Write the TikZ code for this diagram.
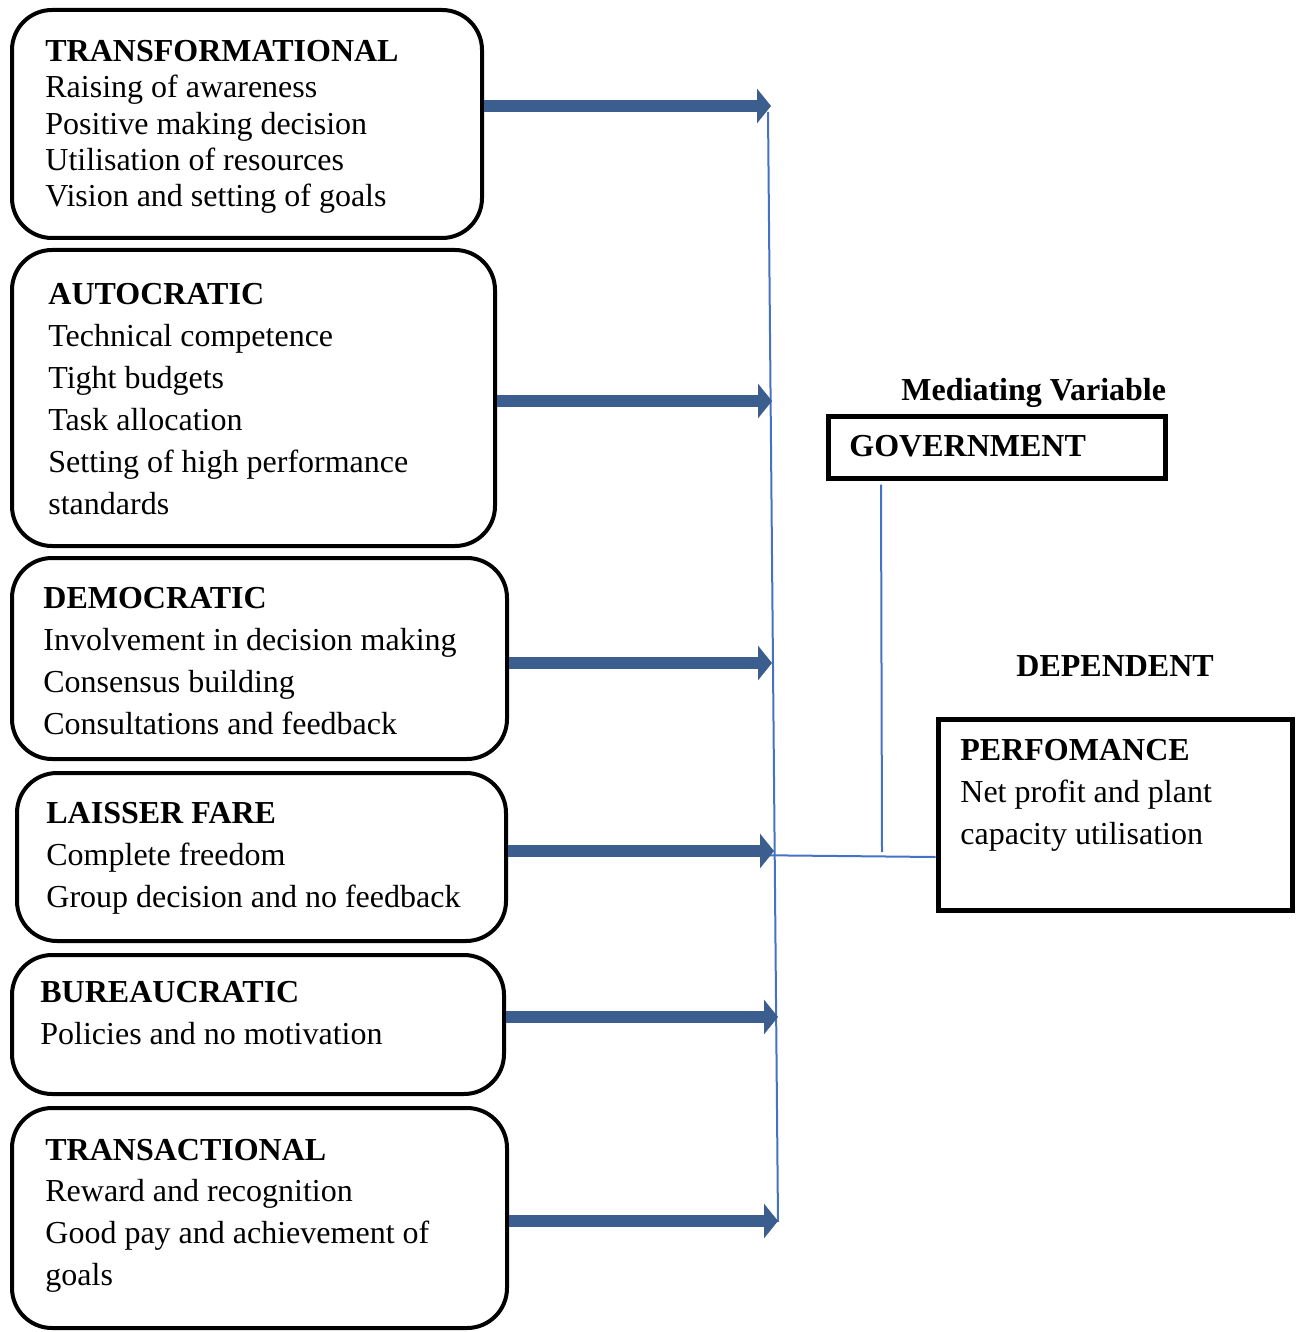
\documentclass[tikz,border=0pt]{standalone}
\usepackage{fontspec}
\setmainfont{Liberation Serif}
\usetikzlibrary{arrows.meta}
\definecolor{arrowblue}{RGB}{59,94,143}
\definecolor{lineblue}{RGB}{68,114,196}
\begin{document}
\begin{tikzpicture}[x=0.5pt,y=-0.5pt,
  lbox/.style={draw, line width=2pt, rounded corners=20pt, inner sep=0pt},
  sbox/.style={draw, line width=2.5pt, inner sep=0pt},
  txt/.style={anchor=base west, inner sep=0pt, font=\fontsize{16pt}{19pt}\selectfont},
  hd/.style={anchor=base west, inner sep=0pt, font=\fontsize{16pt}{19pt}\selectfont\bfseries},
  barrow/.style={draw=arrowblue, line width=6pt, -{Triangle[length=7pt 0,width=17pt 0]}},
  thinline/.style={draw=lineblue, line width=1pt}]
\useasboundingbox (0,0) rectangle (1296,1332);

% boxes
\node[lbox, minimum width=235pt, minimum height=114pt] (b1) at (247,124) {};
\node[lbox, minimum width=241.5pt, minimum height=148pt] (b2) at (253.5,398) {};
\node[lbox, minimum width=247.5pt, minimum height=100.5pt] (b3) at (259.5,658.5) {};
\node[lbox, minimum width=244.5pt, minimum height=84pt] (b4) at (261.5,857) {};
\node[lbox, minimum width=246pt, minimum height=69.5pt] (b5) at (258,1024.5) {};
\node[lbox, minimum width=247.5pt, minimum height=110pt] (b6) at (259.5,1218) {};
\node[sbox, minimum width=168.5pt, minimum height=31pt] (gov) at (996.5,447) {};
\node[sbox, minimum width=177pt, minimum height=95.5pt] (perf) at (1115,814.5) {};

% texts box 1
\node[hd] (t1a) at (45,62) {TRANSFORMATIONAL};
\node[txt] (t1b) at (45,98) {Raising of awareness};
\node[txt] (t1c) at (45,135) {Positive making decision};
\node[txt] (t1d) at (45,171) {Utilisation of resources};
\node[txt] (t1e) at (45,207) {Vision and setting of goals};
% box 2
\node[hd] (t2a) at (48,304) {AUTOCRATIC};
\node[txt] (t2b) at (48,346) {Technical competence};
\node[txt] (t2c) at (48,388) {Tight budgets};
\node[txt] (t2d) at (48,430) {Task allocation};
\node[txt] (t2e) at (48,472) {Setting of high performance};
\node[txt] (t2f) at (48,514) {standards};
% box 3
\node[hd] (t3a) at (43,608) {DEMOCRATIC};
\node[txt] (t3b) at (43,650) {Involvement in decision making};
\node[txt] (t3c) at (43,692) {Consensus building};
\node[txt] (t3d) at (43,734) {Consultations and feedback};
% box 4
\node[hd] (t4a) at (46,823) {LAISSER FARE};
\node[txt] (t4b) at (46,865) {Complete freedom};
\node[txt] (t4c) at (46,907) {Group decision and no feedback};
% box 5
\node[hd] (t5a) at (40,1002) {BUREAUCRATIC};
\node[txt] (t5b) at (40,1044) {Policies and no motivation};
% box 6
\node[hd] (t6a) at (45,1160) {TRANSACTIONAL};
\node[txt] (t6b) at (45,1201) {Reward and recognition};
\node[txt] (t6c) at (45,1243) {Good pay and achievement of};
\node[txt] (t6d) at (45,1285) {goals};
% right side
\node[hd] (med) at (901,400) {Mediating Variable};
\node[hd] (govt) at (849,456) {GOVERNMENT};
\node[hd] (dep) at (1016,676) {DEPENDENT};
\node[hd] (p1) at (960,760) {PERFOMANCE};
\node[txt] (p2) at (960,802) {Net profit and plant};
\node[txt] (p3) at (960,844) {capacity utilisation};

% connector coordinates
\coordinate (vtop) at (768,112);
\coordinate (vbot) at (778,1222);
\coordinate (e1) at (771,106);
\coordinate (e2) at (772,401);
\coordinate (e3) at (772,663);
\coordinate (e4) at (774,851);
\coordinate (e5) at (778,1017);
\coordinate (e6) at (778,1221);
\coordinate (hstart) at (740,855);
\coordinate (gbot) at (882,852);

% thin lines
\draw[thinline] (vtop) -- (vbot);
\draw[thinline] (hstart) -- (perf.west |- 0,857);
\draw[thinline] (gov.south -| 881,0) ++(0,4) -- (gbot);

% block arrows
\draw[barrow] (b1.east |- e1) -- (e1);
\draw[barrow] (b2.east |- e2) -- (e2);
\draw[barrow] (b3.east |- e3) -- (e3);
\draw[barrow] (b4.east |- e4) -- (e4);
\draw[barrow] (b5.east |- e5) -- (e5);
\draw[barrow] (b6.east |- e6) -- (e6);
\end{tikzpicture}
\end{document}
